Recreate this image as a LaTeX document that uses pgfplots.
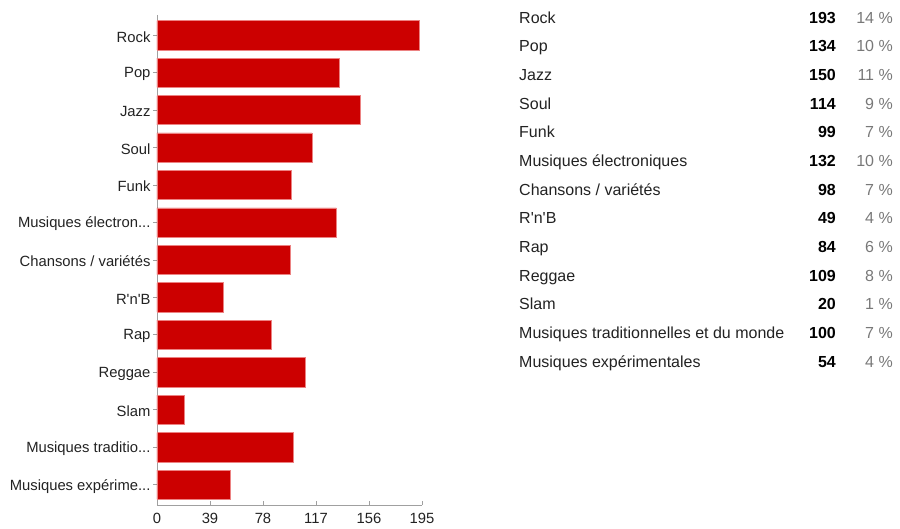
\documentclass[border=0pt]{standalone}
\usepackage{pgfplots}
\pgfplotsset{compat=1.18}
\usepackage{fontspec}
\setmainfont{Liberation Sans}
\definecolor{barred}{RGB}{204,0,0}
\definecolor{baredge}{RGB}{236,130,130}
\definecolor{axgray}{RGB}{160,160,160}
\definecolor{labtxt}{RGB}{34,34,34}
\definecolor{pcttxt}{RGB}{120,120,120}
\newcommand{\fs}{\fontsize{14.8}{17}\selectfont}
\newcommand{\ft}{\fontsize{16}{19}\selectfont}
\newcommand{\dd}{.\kern0pt.\kern0pt.}
\newcommand{\rnb}{R\textquotesingle n\textquotesingle B}
\begin{document}
\begin{tikzpicture}
\path[use as bounding box] (0,0) rectangle (900pt,529pt);
\begin{axis}[
    at={(157pt,24pt)}, anchor=south west,
    scale only axis,
    width=265pt, height=490pt,
    xbar, bar width=29.3pt,
    xmin=0, xmax=195,
    ymin=-0.542, ymax=12.542,
    y dir=reverse,
    xtick={0,39,78,117,156,195},
    ytick={0,1,2,3,4,5,6,7,8,9,10,11,12},
    yticklabels={Rock, Pop, Jazz, Soul, Funk, {Musiques électron\dd}, {Chansons / variétés}, \rnb, Rap, Reggae, Slam, {Musiques traditio\dd}, {Musiques expérime\dd}},
    axis x line*=bottom, axis y line*=left,
    axis line style={axgray, line width=0.8pt, -},
    xtick style={axgray, line width=0.8pt},
    ytick style={axgray, line width=0.8pt},
    xtick align=inside, ytick align=outside,
    major tick length=4pt,
    ticklabel style={font=\fs, text=labtxt},
    xticklabel style={yshift=-4.5pt},
    yticklabel style={xshift=1pt, yshift=-1.5pt},
    /pgf/number format/assume math mode=true,
    clip=false,
]
\addplot[fill=barred, draw=baredge, line width=0.7pt] coordinates {
    (193,0) (134,1) (150,2) (114,3) (99,4) (132,5) (98,6)
    (49,7) (84,8) (109,9) (20,10) (100,11) (54,12)
};
\end{axis}
% table of counts beside the chart
\foreach \lab/\n/\p [count=\i from 0] in {
    Rock/193/14, Pop/134/10, Jazz/150/11, Soul/114/9, Funk/99/7,
    {Musiques électroniques}/132/10, {Chansons / variétés}/98/7,
    {\rnb}/49/4, Rap/84/6, Reggae/109/8, Slam/20/1,
    {Musiques traditionnelles et du monde}/100/7,
    {Musiques expérimentales}/54/4} {
  \pgfmathsetmacro{\yy}{529-19.5-28.67*\i}
  \node[anchor=west, inner sep=0pt, font=\ft, text=labtxt] at (519pt,\yy pt) {\strut\lab};
  \node[anchor=east, inner sep=0pt, font=\ft\bfseries, text=black] at (836pt,\yy pt) {\strut\n};
  \node[anchor=east, inner sep=0pt, font=\ft, text=pcttxt] at (893pt,\yy pt) {\strut\p~\%};
}
\end{tikzpicture}
\end{document}
